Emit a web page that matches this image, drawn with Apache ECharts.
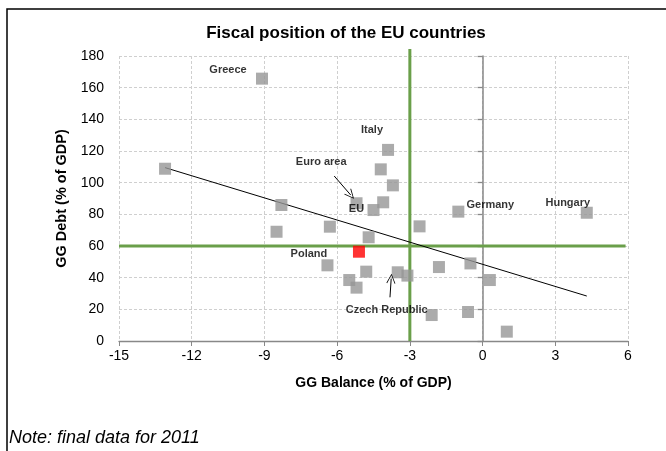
<!DOCTYPE html>
<html><head><meta charset="utf-8">
<script src="https://cdn.jsdelivr.net/npm/echarts@6/dist/echarts.min.js"></script>
<style>html,body{margin:0;padding:0;background:#fff}#c{width:666px;height:451px}</style>
</head><body><div id="c"></div>
<script>
const countries = ['Greece','Ireland','United Kingdom','Spain','Cyprus','Slovenia','Lithuania','Romania','Slovakia','Poland','France','Netherlands','EU','Euro area','Portugal','Italy','Belgium','Czech Republic','Latvia','Austria','Denmark','Bulgaria','Germany','Finland','Luxembourg','Sweden','Estonia','Hungary'];
const balance = [-9.1,-13.1,-8.3,-8.5,-6.3,-6.4,-5.5,-5.2,-4.8,-5.1,-5.2,-4.7,-4.5,-4.1,-4.2,-3.9,-3.7,-3.5,-3.1,-2.6,-1.8,-2.1,-1.0,-0.5,-0.6,0.3,1.0,4.3];
const debt = [165.7,108.8,85.9,69.0,72.2,47.8,38.5,33.7,43.8,56.4,87.0,65.5,82.7,87.6,108.4,120.7,98.3,43.4,41.3,72.4,46.7,16.4,81.7,49.0,18.3,38.5,5.9,81.0];
const highlighted = ['Poland'];
const trendLine = [[-13.1,109.5],[4.3,28.4]];
const deficitLimit = -3;
const debtLimit = 60;
const xTicks = {min:-15, max:6, interval:3};
const yTicks = {min:0, max:180, interval:20};
const euroAreaArrow = [[-6.12,104.2],[-5.44,92.2]];
const czechArrow = [[-3.82,27.6],[-3.77,39.4]];

const FONT = 'Arial, "Liberation Sans", sans-serif';
const labelOffsets = {
  'Greece':[-34,-9], 'Italy':[-16,-20], 'Euro area':[-62,-40], 'EU':[-17,-1],
  'Germany':[32,-7], 'Hungary':[-19,-10], 'Poland':[-50,2], 'Czech Republic':[-11,38]
};
const points = countries.map((n,i)=>{
  const item = {name:n, value:[balance[i], debt[i]]};
  if (highlighted.includes(n)) item.itemStyle = {color:'#ff0000'};
  if (labelOffsets[n]) item.label = {show:true, position:'inside', offset:labelOffsets[n],
    formatter:n, color:'#000', fontWeight:'bold', fontSize:11, fontFamily:FONT};
  return item;
});
const gridLeft=119, gridRight=38, W=666;
const plotW = W-gridLeft-gridRight;
const zeroOffset = -plotW*(0-xTicks.min)/(xTicks.max-xTicks.min);
const green = '#6a9f4a';
const chevron = 'path://M0,0 L6,12 L5,12.6 L0,2.2 L-5,12.6 L-6,12 Z';

const chart = echarts.init(document.getElementById('c'), null, {renderer:'canvas'});
chart.setOption({
  animation:false,
  title:{text:'Fiscal position of the EU countries', left:341, top:20, textAlign:'center',
    textStyle:{fontSize:17, fontWeight:'bold', color:'#000', fontFamily:FONT}},
  grid:{left:gridLeft, right:gridRight, top:56, bottom:110},
  xAxis:{type:'value', min:xTicks.min, max:xTicks.max, interval:xTicks.interval,
    name:'GG Balance (% of GDP)', nameLocation:'middle', nameGap:35,
    nameTextStyle:{fontSize:14, fontWeight:'bold', color:'#000', fontFamily:FONT},
    axisLine:{onZero:false, lineStyle:{color:'#888', width:1.3}},
    axisTick:{show:true, length:5, lineStyle:{color:'#888'}},
    axisLabel:{fontSize:14, color:'#000', fontFamily:FONT, margin:8},
    splitLine:{show:true, lineStyle:{color:'#cfcfcf', type:[3,2], width:1}}},
  yAxis:[{type:'value', min:yTicks.min, max:yTicks.max, interval:yTicks.interval,
    name:'GG Debt (% of GDP)', nameLocation:'middle', nameGap:50,
    nameTextStyle:{fontSize:14.5, fontWeight:'bold', color:'#000', fontFamily:FONT},
    axisLine:{show:false}, axisTick:{show:false},
    axisLabel:{fontSize:14, color:'#000', fontFamily:FONT, margin:15},
    splitLine:{show:true, lineStyle:{color:'#cfcfcf', type:[3,2], width:1}}},
   {type:'value', min:yTicks.min, max:yTicks.max, interval:yTicks.interval, position:'left',
    offset:zeroOffset, axisLine:{show:true, lineStyle:{color:'#888', width:1.5}},
    axisTick:{show:true, length:5, lineStyle:{color:'#888', width:1.3}},
    axisLabel:{show:false}, splitLine:{show:false}}],
  graphic:[
    {type:'rect', shape:{x:7, y:9, width:700, height:500}, style:{fill:'none', stroke:'#000', lineWidth:1.5}, silent:true},
    {type:'text', left:9, top:429, style:{text:'Note: final data for 2011', font:'italic 18px '+FONT, fill:'#000'}}
  ],
  series:[
    {type:'line', data:[[deficitLimit,yTicks.min],[deficitLimit,184.5]], clip:false, symbol:'none',
      lineStyle:{color:green, width:3}, z:1},
    {type:'line', data:[[xTicks.min,debtLimit],[5.9,debtLimit]], symbol:'none',
      lineStyle:{color:green, width:3}, z:1},
    {type:'line', data:trendLine, symbol:'none', lineStyle:{color:'#000', width:1}, z:3},
    {type:'scatter', data:points, symbol:'rect', symbolSize:12, itemStyle:{color:'#969696'}, z:4,
      markLine:{silent:true, symbol:['none', chevron], symbolSize:[9,10], label:{show:false},
        lineStyle:{color:'#000', width:1, type:'solid'},
        data:[[{coord:euroAreaArrow[0]},{coord:euroAreaArrow[1]}],[{coord:czechArrow[0]},{coord:czechArrow[1]}]]}}
  ]
});
</script></body></html>
